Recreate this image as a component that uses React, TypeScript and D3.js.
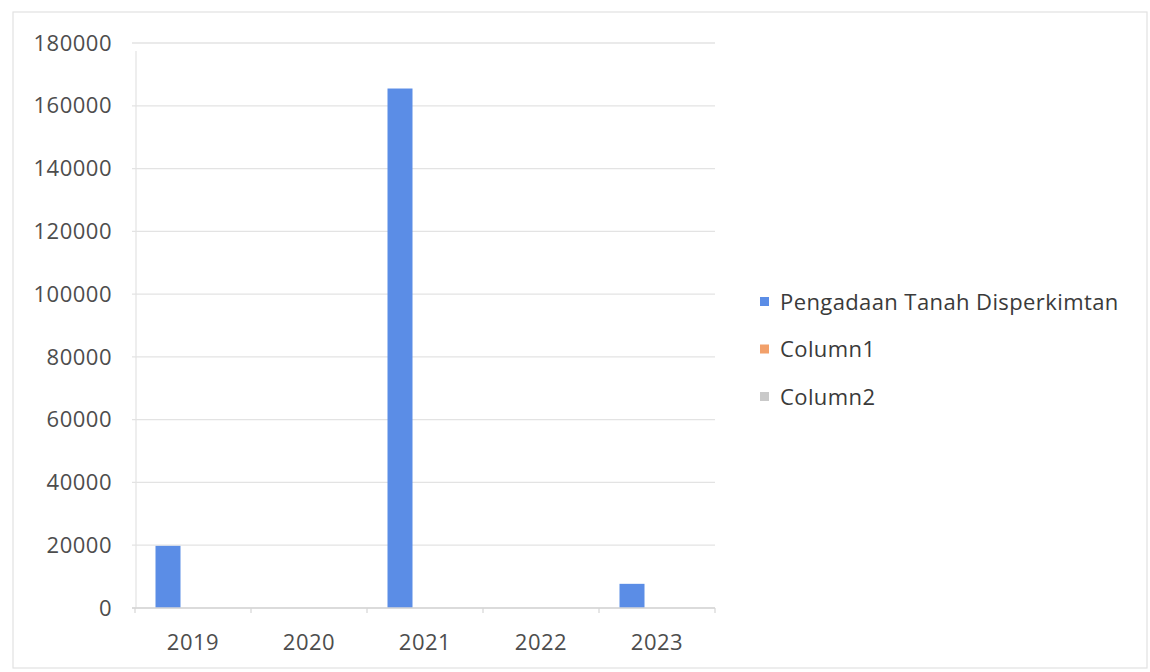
import React from "react";
import * as d3 from "d3";

const categories = ["2019", "2020", "2021", "2022", "2023"];
const seriesNames = ["Pengadaan Tanah Disperkimtan", "Column1", "Column2"];
const pengadaanValues = [19800, 0, 165500, 0, 7700];
const column1Values: (number | null)[] = [null, null, null, null, null];
const column2Values: (number | null)[] = [null, null, null, null, null];
const yTicks = [0, 20000, 40000, 60000, 80000, 100000, 120000, 140000, 160000, 180000];
const seriesColors = ["#5b8de6", "#f2a06a", "#c9c9c9"];

const W = 1150;
const H = 672;
const plot = { left: 135, right: 715, top: 43, bottom: 608 };
const gapWidth = 1.64;
const FONT = "'Open Sans', 'Noto Sans', sans-serif";

export default function App() {
  const seriesValues = [pengadaanValues, column1Values, column2Values];
  const x = d3.scaleBand<string>().domain(categories).range([plot.left, plot.right]).padding(0);
  const bw = x.bandwidth();
  const barW = bw / (seriesNames.length + gapWidth);
  const half = (barW * gapWidth) / 2;
  const xs = d3.scaleBand<string>().domain(seriesNames).range([half, bw - half]).padding(0);
  const y = d3.scaleLinear().domain([0, 180000]).range([plot.bottom, plot.top]);

  return (
    <svg
      width={W}
      height={H}
      style={{ position: "absolute", left: 0, top: 0, background: "#fff" }}
      fontFamily={FONT}
    >
      <rect x={13} y={12} width={1134} height={656} fill="#fff" stroke="#e2e2e2" strokeWidth={1.2} />
      {/* gridlines */}
      {yTicks.map((t) => (
        <line key={t} x1={plot.left - 3} x2={plot.right} y1={y(t)} y2={y(t)} stroke="#e3e3e3" strokeWidth={1.3} />
      ))}
      {/* vertical axis line */}
      <line x1={plot.left + 1} x2={plot.left + 1} y1={plot.top + 8} y2={plot.bottom} stroke="#e3e3e3" strokeWidth={1.2} />
      {/* y labels */}
      {yTicks.map((t) => (
        <text
          key={t}
          x={112}
          y={y(t)}
          dy="0.35em"
          textAnchor="end"
          fontSize={22}
          letterSpacing={0.5}
          fill="#4d4d4d"
        >
          {t}
        </text>
      ))}
      {/* bars */}
      {seriesValues.map((vals, si) =>
        vals.map((v, ci) =>
          v == null || v === 0 ? null : (
            <rect
              key={`${si}-${ci}`}
              x={(x(categories[ci]) as number) + (xs(seriesNames[si]) as number)}
              y={y(v)}
              width={xs.bandwidth()}
              height={y(0) - y(v)}
              fill={seriesColors[si]}
            />
          )
        )
      )}
      {/* x axis */}
      <line x1={plot.left - 3} x2={plot.right} y1={y(0)} y2={y(0)} stroke="#d6d6d6" strokeWidth={1.3} />
      {categories.map((c) => (
        <line
          key={`tk${c}`}
          x1={x(c) as number}
          x2={x(c) as number}
          y1={y(0)}
          y2={y(0) + 5}
          stroke="#d6d6d6"
          strokeWidth={1.2}
        />
      ))}
      <line x1={plot.right} x2={plot.right} y1={y(0)} y2={y(0) + 5} stroke="#d6d6d6" strokeWidth={1.2} />
      {categories.map((c) => (
        <text
          key={`lbl${c}`}
          x={(x(c) as number) + bw / 2}
          y={642}
          dy="0.35em"
          textAnchor="middle"
          fontSize={22}
          letterSpacing={0.5}
          fill="#4d4d4d"
        >
          {c}
        </text>
      ))}
      {/* legend */}
      {seriesNames.map((s, i) => (
        <g key={s} transform={`translate(760, ${302 + i * 47.5})`}>
          <rect x={0} y={-5} width={9} height={9} fill={seriesColors[i]} />
          <text x={20} y={0} dy="0.35em" fontSize={22} letterSpacing={0.4} fill="#3a3a3a">
            {s}
          </text>
        </g>
      ))}
    </svg>
  );
}
